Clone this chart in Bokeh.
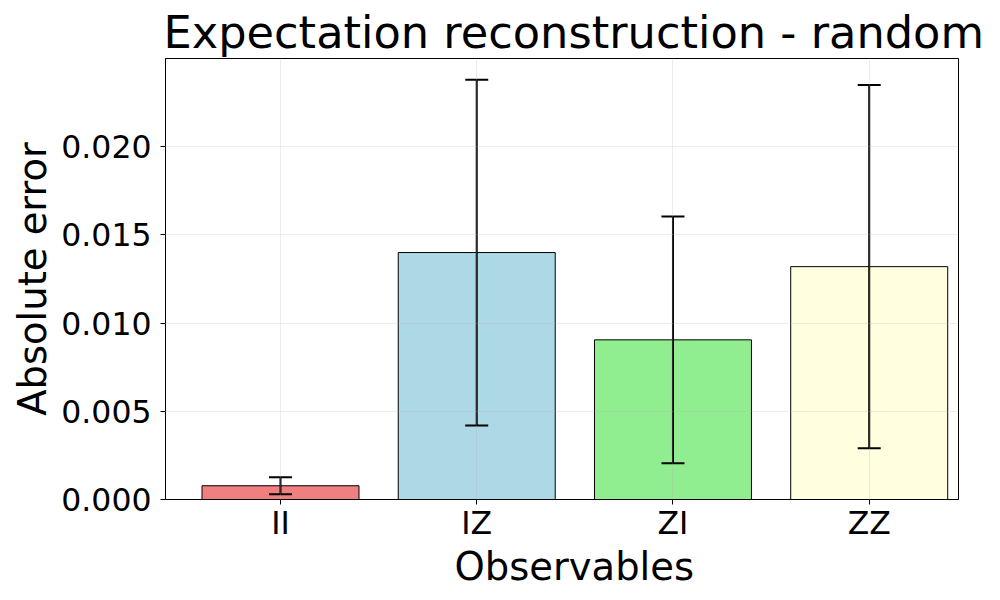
from bokeh.plotting import figure
from bokeh.models import ColumnDataSource, Range1d, FixedTicker, NumeralTickFormatter, Whisker, TeeHead
from bokeh.embed import file_html
from bokeh.resources import INLINE

categories = ["II", "IZ", "ZI", "ZZ"]
values = [0.00078, 0.0140, 0.00905, 0.0132]
errors = [0.00048, 0.0098, 0.0070, 0.0103]
colors = ["#F08080", "#ADD8E6", "#90EE90", "#FFFFE0"]
y_ticks = [0.0, 0.005, 0.010, 0.015, 0.020]

FONT = "DejaVu Sans"

xpos = list(range(len(categories)))
src = ColumnDataSource(dict(
    x=xpos,
    val=values,
    upper=[v + e for v, e in zip(values, errors)],
    lower=[v - e for v, e in zip(values, errors)],
    color=colors,
))

p = figure(
    width=1000, height=600,
    x_range=Range1d(-0.586, 3.455),
    y_range=Range1d(0, 0.025),
    output_backend="svg", toolbar_location=None,
    title="Expectation reconstruction - random",
)
p.min_border_left = 165
p.min_border_right = 42
p.min_border_top = 58
p.min_border_bottom = 101

p.title.text_font = FONT
p.title.text_font_size = "44.7px"
p.title.text_font_style = "normal"
p.title.text_color = "black"
p.title.align = "left"
p.title.offset = -2
p.title.standoff = 0
p.title.text_line_height = 1.0

p.vbar(x="x", top="val", width=0.8, source=src, fill_color="color",
       line_color="black", line_width=1)

w = Whisker(base="x", upper="upper", lower="lower", source=src,
            line_color="black", line_width=2, level="annotation",
            upper_head=TeeHead(size=23, line_color="black", line_width=2),
            lower_head=TeeHead(size=23, line_color="black", line_width=2))
p.add_layout(w)

p.outline_line_color = "black"
p.outline_line_width = 1
p.background_fill_color = "white"
p.border_fill_color = "white"

for g in (p.xgrid, p.ygrid):
    g.grid_line_color = "#b0b0b0"
    g.grid_line_alpha = 0.3
    g.grid_line_width = 0.8
    g.level = "overlay"

p.xaxis.ticker = FixedTicker(ticks=xpos)
p.xaxis.major_label_overrides = {i: c for i, c in zip(xpos, categories)}
p.yaxis.ticker = FixedTicker(ticks=y_ticks)
p.yaxis.formatter = NumeralTickFormatter(format="0.000")

for ax in (p.xaxis, p.yaxis):
    ax.axis_line_color = "black"
    ax.major_tick_line_color = "black"
    ax.major_tick_out = 5
    ax.major_tick_in = 0
    ax.minor_tick_line_color = None
    ax.major_label_text_font = FONT
    ax.major_label_text_font_size = "31.5px"
    ax.major_label_text_color = "black"
    ax.axis_label_text_font = FONT
    ax.axis_label_text_font_size = "38.5px"
    ax.axis_label_text_font_style = "normal"
    ax.axis_label_text_color = "black"

p.xaxis.major_label_standoff = 0
p.yaxis.major_label_standoff = 9
p.xaxis.axis_label = "\u00a0\u00a0Observables"
p.yaxis.axis_label = "Absolute error"
p.xaxis.axis_label_standoff = 0
p.yaxis.axis_label_standoff = 3

open("out.html", "w").write(file_html(p, INLINE))
